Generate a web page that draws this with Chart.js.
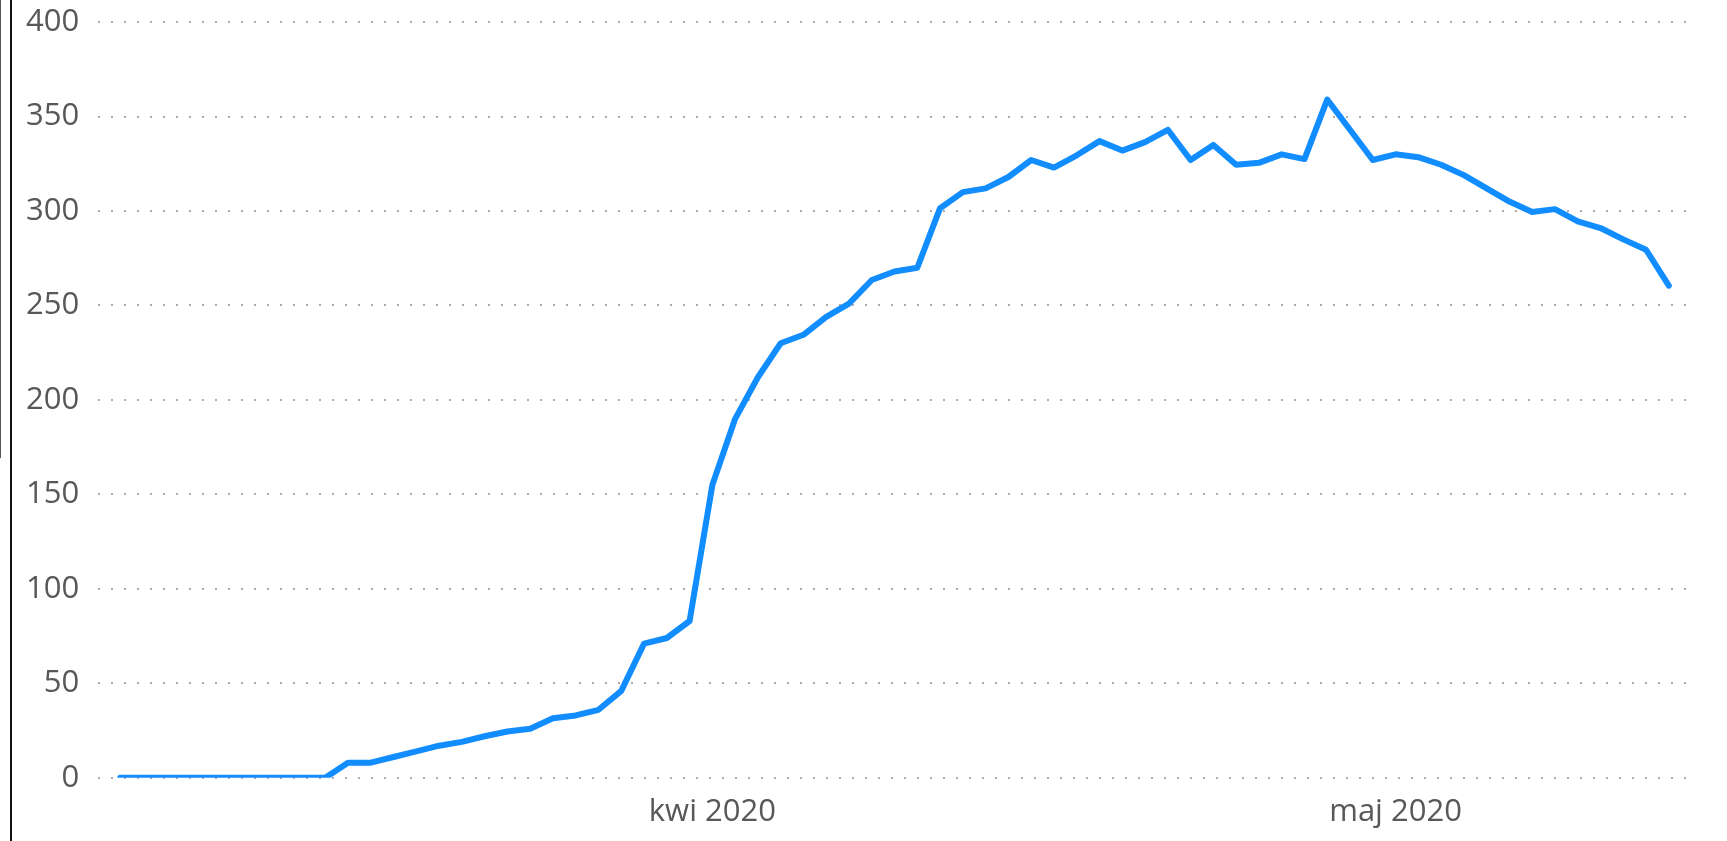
<!DOCTYPE html>
<html>
<head>
<meta charset="utf-8">
<script src="https://cdn.jsdelivr.net/npm/chart.js@4/dist/chart.umd.min.js"></script>
<style>
  body { margin: 0; background: #fff; }
  #wrap { position: relative; width: 1727px; height: 841px; }
  #edge1 { position: absolute; left: 0; top: 0; width: 1px; height: 458px; background: #555; }
  #edge2 { position: absolute; left: 10px; top: 0; width: 2px; height: 841px; background: #111; }
</style>
</head>
<body>
<div id="wrap">
  <canvas id="myChart" width="1727" height="841"></canvas>
  <div id="edge1"></div>
  <div id="edge2"></div>
</div>
<script>
// daily dates, 6 Mar - 13 May 2020
const dates = [
  '2020-03-06','2020-03-07','2020-03-08','2020-03-09','2020-03-10','2020-03-11','2020-03-12',
  '2020-03-13','2020-03-14','2020-03-15','2020-03-16','2020-03-17','2020-03-18','2020-03-19',
  '2020-03-20','2020-03-21','2020-03-22','2020-03-23','2020-03-24','2020-03-25','2020-03-26',
  '2020-03-27','2020-03-28','2020-03-29','2020-03-30','2020-03-31','2020-04-01','2020-04-02',
  '2020-04-03','2020-04-04','2020-04-05','2020-04-06','2020-04-07','2020-04-08','2020-04-09',
  '2020-04-10','2020-04-11','2020-04-12','2020-04-13','2020-04-14','2020-04-15','2020-04-16',
  '2020-04-17','2020-04-18','2020-04-19','2020-04-20','2020-04-21','2020-04-22','2020-04-23',
  '2020-04-24','2020-04-25','2020-04-26','2020-04-27','2020-04-28','2020-04-29','2020-04-30',
  '2020-05-01','2020-05-02','2020-05-03','2020-05-04','2020-05-05','2020-05-06','2020-05-07',
  '2020-05-08','2020-05-09','2020-05-10','2020-05-11','2020-05-12','2020-05-13'
];

const values = [
  0, 0, 0, 0, 0, 0, 0, 0, 0, 0,
  8, 8, 11, 14, 17, 19, 22, 24.5, 26, 31.5,
  33, 36, 46, 71, 74, 83, 155, 190, 212, 230,
  234.5, 244, 251, 263.5, 268, 270, 301.5, 310, 312, 318,
  327, 323, 329.5, 337, 332, 336.5, 343, 327, 335, 324.5,
  325.5, 330, 327.5, 359, 343, 327, 330, 328.5, 324.5, 319,
  312, 305, 299.5, 301, 294.5, 291, 285, 279.5, 260.5
];

const tickDates = ['2020-04-01', '2020-05-01'];
const tickLabels = ['kwi 2020', 'maj 2020'];

const yTicks = [0, 50, 100, 150, 200, 250, 300, 350, 400];

function chart(){
    const points = values.map(function(v, i){ return { x: i, y: v }; });

    const data = {
        datasets: [{
            label: 'values',
            data: points,
            borderColor: '#118DFF',
            backgroundColor: '#118DFF',
            borderWidth: 6,
            borderCapStyle: 'round',
            borderJoinStyle: 'round',
            pointRadius: 0,
            tension: 0
        }]
    };

    const font = { family: "'Open Sans', 'Noto Sans', sans-serif", size: 31 };

    const config = {
        type: 'line',
        data: data,
        options: {
            responsive: false,
            animation: false,
            layout: { padding: { left: 7, right: 37, top: 0, bottom: 2 } },
            plugins: { legend: { display: false }, tooltip: { enabled: false } },
            scales: {
                x: {
                    type: 'linear',
                    min: -0.97,
                    max: dates.length - 1 + 0.93,
                    grid: { display: false },
                    border: { display: false },
                    afterBuildTicks: function(scale){
                        scale.ticks = tickDates.map(function(d){ return { value: dates.indexOf(d) }; });
                    },
                    ticks: {
                        font: font,
                        color: '#5A5856',
                        padding: 8,
                        maxRotation: 0,
                        autoSkip: false,
                        callback: function(value){
                            return tickLabels[tickDates.indexOf(dates[value])];
                        }
                    }
                },
                y: {
                    min: yTicks[0],
                    max: yTicks[yTicks.length - 1],
                    grid: {
                        color: '#ABABAB',
                        lineWidth: 2,
                        drawTicks: false
                    },
                    border: { display: false, dash: [2, 11] },
                    ticks: {
                        stepSize: 50,
                        font: { family: font.family, size: font.size, lineHeight: 0.2 },
                        color: '#5A5856',
                        padding: 19
                    }
                }
            }
        }
    };

    new Chart(document.getElementById('myChart'), config);
}

chart();
</script>
</body>
</html>
